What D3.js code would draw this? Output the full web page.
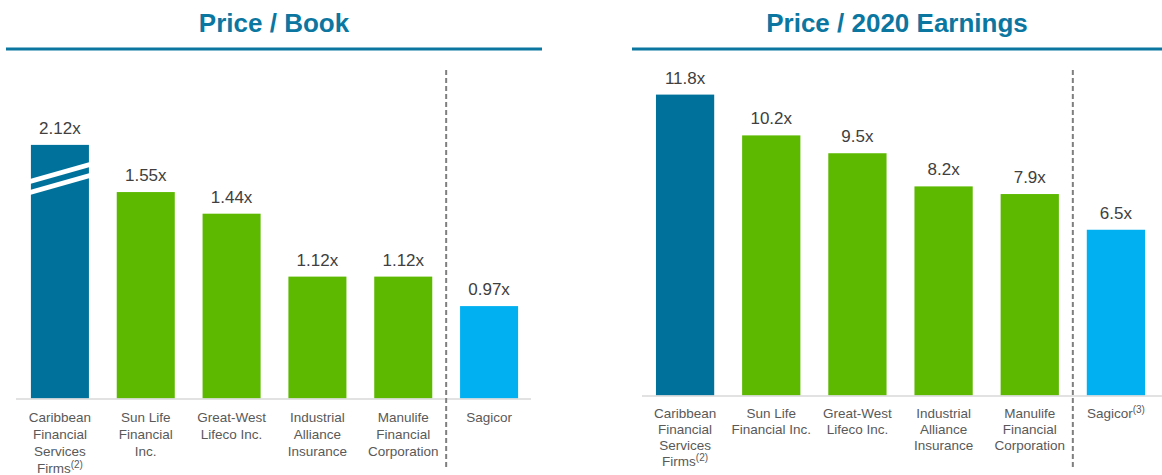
<!DOCTYPE html>
<html>
<head>
<meta charset="utf-8">
<script src="https://cdn.jsdelivr.net/npm/d3@7"></script>
<style>
	body { margin: 0; background: #fff; }
	svg { display: block; font-family: "Liberation Sans", Arial, sans-serif; }
</style>
</head>
<body>
<div id="chart"></div>
<script>
'use strict';

// DATA
var bookCompanies = ['caribbean', 'sunlife', 'gwl', 'ia', 'manulife', 'sagicor'];
var bookValues = [2.12, 1.55, 1.44, 1.12, 1.12, 0.97];
var bookLabels = [
	['Caribbean', 'Financial', 'Services', 'Firms|(2)'],
	['Sun Life', 'Financial', 'Inc.'],
	['Great-West', 'Lifeco Inc.'],
	['Industrial', 'Alliance', 'Insurance'],
	['Manulife', 'Financial', 'Corporation'],
	['Sagicor']
];
var bookBreakAt = 1.79; // bar 1 is cut off here (axis break)

var earningsCompanies = ['caribbean', 'sunlife', 'gwl', 'ia', 'manulife', 'sagicor'];
var earningsValues = [11.8, 10.2, 9.5, 8.2, 7.9, 6.5];
var earningsLabels = [
	['Caribbean', 'Financial', 'Services', 'Firms|(2)'],
	['Sun Life', 'Financial Inc.'],
	['Great-West', 'Lifeco Inc.'],
	['Industrial', 'Alliance', 'Insurance'],
	['Manulife', 'Financial', 'Corporation'],
	['Sagicor|(3)']
];

var colors = {
	caribbean: '#00719b',
	peer: '#5cb900',
	sagicor: '#00b0f0',
	title: '#0b77a1'
};

var svg = d3.select('#chart')
	.append('svg')
	.attr('width', 1162)
	.attr('height', 475);

var drawPanel = function(cfg) {
	var g = svg.append('g');

	// TITLE
	g.append('text')
		.attr('x', (cfg.lineX0 + cfg.lineX1) / 2)
		.attr('y', 32)
		.attr('text-anchor', 'middle')
		.attr('font-size', 26)
		.attr('font-weight', 'bold')
		.attr('fill', colors.title)
		.text(cfg.title);

	g.append('rect')
		.attr('x', cfg.lineX0)
		.attr('y', 47.5)
		.attr('width', cfg.lineX1 - cfg.lineX0)
		.attr('height', 3)
		.attr('fill', colors.title);

	var x = d3.scaleBand()
		.domain(cfg.companies)
		.range(cfg.xRange)
		.paddingInner(0.324)
		.paddingOuter(0.162);

	var y = d3.scaleLinear()
		.domain(cfg.yDomain)
		.range([cfg.baseline, cfg.baseline - cfg.yPx]);

	var rows = cfg.companies.map(function(c, i) {
		var shown = cfg.breakAt && cfg.values[i] > cfg.breakAt ? cfg.breakAt : cfg.values[i];
		return { key: c, value: cfg.values[i], shown: shown, labels: cfg.labels[i], i: i };
	});

	var fillFor = function(d) {
		if (d.key === 'caribbean') { return colors.caribbean; }
		if (d.key === 'sagicor') { return colors.sagicor; }
		return colors.peer;
	};

	// BARS
	g.append('g')
		.selectAll('rect').data(rows).enter()
		.append('rect')
		.attr('x', function(d) { return x(d.key); })
		.attr('y', function(d) { return y(d.shown); })
		.attr('width', x.bandwidth())
		.attr('height', function(d) { return cfg.baseline - y(d.shown); })
		.attr('fill', fillFor);

	// BREAK MARKS
	rows.filter(function(d) { return d.shown !== d.value; }).forEach(function(d) {
		var x0 = x(d.key) - 1, x1 = x(d.key) + x.bandwidth() + 1;
		var top = y(d.shown);
		[34, 45].forEach(function(off) {
			g.append('path')
				.attr('d', 'M' + x0 + ',' + (top + off) + 'L' + x1 + ',' + (top + off - 17) +
					'L' + x1 + ',' + (top + off - 12) + 'L' + x0 + ',' + (top + off + 5) + 'Z')
				.attr('fill', '#fff');
		});
	});

	// VALUE LABELS
	g.append('g')
		.selectAll('text').data(rows).enter()
		.append('text')
		.attr('x', function(d) { return x(d.key) + x.bandwidth() / 2; })
		.attr('y', function(d) { return y(d.shown) - 11; })
		.attr('text-anchor', 'middle')
		.attr('font-size', 17)
		.attr('fill', '#404040')
		.text(function(d) { return d.value.toFixed(cfg.digits) + 'x'; });

	// AXIS LINE
	g.append('line')
		.attr('x1', cfg.axisX0)
		.attr('x2', cfg.axisX1)
		.attr('y1', cfg.baseline + 0.5)
		.attr('y2', cfg.baseline + 0.5)
		.attr('stroke', '#d9d9d9')
		.attr('stroke-width', 1.5);

	// SEPARATOR
	var last = cfg.companies[cfg.companies.length - 1];
	var prev = cfg.companies[cfg.companies.length - 2];
	var sepX = (x(prev) + x.bandwidth() + x(last)) / 2;
	g.append('line')
		.attr('x1', sepX)
		.attr('x2', sepX)
		.attr('y1', 70)
		.attr('y2', 468)
		.attr('stroke', '#7f7f7f')
		.attr('stroke-width', 2)
		.attr('stroke-dasharray', '5,3');

	// CATEGORY LABELS
	var cats = g.append('g')
		.selectAll('text').data(rows).enter()
		.append('text')
		.attr('text-anchor', 'middle')
		.attr('font-size', 13.5)
		.attr('fill', '#595959');

	cats.each(function(d) {
		var t = d3.select(this);
		var cx = x(d.key) + x.bandwidth() / 2;
		d.labels.forEach(function(line, li) {
			var parts = line.split('|');
			t.append('tspan')
				.attr('x', cx)
				.attr('y', cfg.labelY + li * cfg.lineH)
				.text(parts[0]);
			if (parts[1]) {
				t.append('tspan')
					.attr('font-size', 10)
					.attr('dy', -5)
					.text(parts[1]);
			}
		});
	});
};

drawPanel({
	title: 'Price / Book',
	lineX0: 6, lineX1: 542,
	companies: bookCompanies,
	values: bookValues,
	labels: bookLabels,
	breakAt: bookBreakAt,
	xRange: [17, 532],
	axisX0: 16, axisX1: 531,
	baseline: 398.5,
	yDomain: [0.5, 2.0],
	yPx: 1.5 * 196.6,
	digits: 2,
	labelY: 421.5,
	lineH: 17
});

drawPanel({
	title: 'Price / 2020 Earnings',
	lineX0: 632, lineX1: 1162,
	companies: earningsCompanies,
	values: earningsValues,
	labels: earningsLabels,
	xRange: [642, 1159],
	axisX0: 642, axisX1: 1162,
	baseline: 395.5,
	yDomain: [0, 12],
	yPx: 12 * 25.5,
	digits: 1,
	labelY: 418,
	lineH: 16
});
</script>
</body>
</html>
